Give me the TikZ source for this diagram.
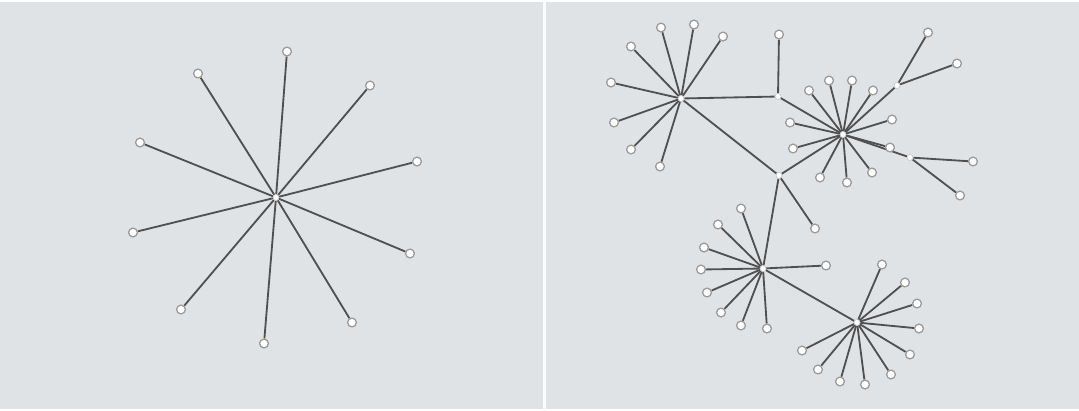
\documentclass[tikz,border=0pt]{standalone}
\usetikzlibrary{backgrounds}

\definecolor{fond}{HTML}{E0E3E6}
\definecolor{arete}{HTML}{505050}
\definecolor{bord}{HTML}{9A9A9A}

\tikzset{
  feuille/.style={circle, draw=bord, fill=white, line width=0.9pt, inner sep=0pt, minimum size=0.22cm},
  moyeu/.style={circle, draw=bord!60, fill=white, line width=0.4pt, inner sep=0pt, minimum size=0.15cm},
  lien/.style={arete, line width=1.3pt}
}

\begin{document}
\begin{tikzpicture}[x=0.025cm, y=-0.025cm]

  % 1. Fond et separation
  \begin{scope}[on background layer]
    \fill[fond] (0,0) rectangle (1079,407);
    \draw[white!85!fond, line width=0.075cm] (544,0) -- (544,407);
  \end{scope}

  % 2. Etoile de gauche
  \node[moyeu] (c) at (276,196) {};
  \foreach \i/\x/\y in {1/287/50, 2/198/72, 3/370/84, 4/140/141, 5/417/160,
                        6/133/231, 7/410/252, 8/181/308, 9/352/321, 10/264/342} {
    \node[feuille] (e\i) at (\x,\y) {};
    \begin{scope}[on background layer]
      \draw[lien] (c) -- (e\i);
    \end{scope}
  }

  % 3. Arbre de droite - noeuds internes
  \node[moyeu] (A) at (681,97) {};
  \node[moyeu] (B) at (778,95) {};
  \node[moyeu] (C) at (779,174) {};
  \node[moyeu] (D) at (843,133) {};
  \node[moyeu] (E) at (897,84) {};
  \node[moyeu] (F) at (910,156) {};
  \node[moyeu] (G) at (763,267) {};
  \node[moyeu] (H) at (857,321) {};

  \begin{scope}[on background layer]
    \draw[lien] (A) -- (B);
    \draw[lien] (A) -- (C);
    \draw[lien] (B) -- (D);
    \draw[lien] (C) -- (D);
    \draw[lien] (C) -- (G);
    \draw[lien] (G) -- (H);
    \draw[lien] (D) -- (E);
    \draw[lien] (D) -- (F);
  \end{scope}

  % 4. Feuilles de chaque moyeu
  \foreach \p/\i/\x/\y in {A/1/661/26, A/2/694/23, A/3/723/35, A/4/631/45,
                           A/5/611/81, A/6/614/121, A/7/631/148, A/8/660/165,
                           B/1/779/33, C/1/815/227,
                           D/1/809/89, D/2/829/79, D/3/852/79, D/4/873/89,
                           D/5/892/118, D/6/890/146, D/7/872/171, D/8/847/181,
                           D/9/820/176, D/10/793/147, D/11/790/121,
                           E/1/928/31, E/2/957/62, F/1/973/160, F/2/960/194,
                           G/1/741/207, G/2/718/223, G/3/704/246, G/4/701/268,
                           G/5/707/291, G/6/721/311, G/7/741/324, G/8/767/327,
                           G/9/826/264,
                           H/1/882/263, H/2/905/281, H/3/917/302, H/4/919/327,
                           H/5/910/353, H/6/891/373, H/7/865/383, H/8/840/380,
                           H/9/818/368, H/10/802/349} {
    \node[feuille] (\p\i) at (\x,\y) {};
    \begin{scope}[on background layer]
      \draw[lien] (\p) -- (\p\i);
    \end{scope}
  }

\end{tikzpicture}
\end{document}
